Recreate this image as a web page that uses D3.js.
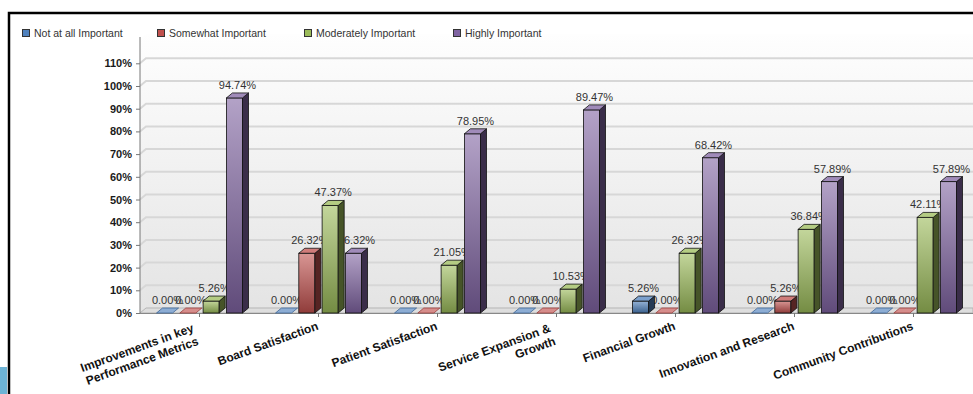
<!DOCTYPE html>
<html>
<head>
<meta charset="utf-8">
<script src="https://cdn.jsdelivr.net/npm/d3@7/dist/d3.min.js"></script>
<style>
  body { margin: 0; background: #fff; overflow: hidden; }
  text { font-family: "Liberation Sans", Arial, sans-serif; }
</style>
</head>
<body>
<div id="chart"></div>
<script>
// data
const categories = [
  "Improvements in key\nPerformance Metrics",
  "Board Satisfaction",
  "Patient Satisfaction",
  "Service Expansion &\nGrowth",
  "Financial Growth",
  "Innovation and Research",
  "Community Contributions"
];
const series = ["Not at all Important", "Somewhat Important", "Moderately Important", "Highly Important"];
const notAtAll   = [0, 0, 0, 0, 5.26, 0, 0];
const somewhat   = [0, 26.32, 0, 0, 0, 5.26, 0];
const moderately = [5.26, 47.37, 21.05, 10.53, 26.32, 36.84, 42.11];
const highly     = [94.74, 26.32, 78.95, 89.47, 68.42, 57.89, 57.89];
const yTicks = [0, 10, 20, 30, 40, 50, 60, 70, 80, 90, 100, 110];

const seriesValues = [notAtAll, somewhat, moderately, highly];
const colors = ["#4f81bd", "#c0504d", "#9bbb59", "#8064a2"];

const width = 973, height = 394;
const left = 140, right = 973, floorY = 313;
const dx = 6, dy = 5; // 3d depth
const legendX = [22, 157, 304, 453];

const svg = d3.select("#chart").append("svg")
  .attr("width", width)
  .attr("height", height);

const defs = svg.append("defs");

// wall gradient
const wallGrad = defs.append("linearGradient").attr("id", "wallGrad")
  .attr("x1", 0).attr("y1", 0).attr("x2", 0).attr("y2", 1);
wallGrad.append("stop").attr("offset", "0%").attr("stop-color", "#fefefe");
wallGrad.append("stop").attr("offset", "100%").attr("stop-color", "#e4e4e4");

// bar gradients
colors.forEach(function(c, i) {
  const g = defs.append("linearGradient").attr("id", "barGrad" + i)
    .attr("x1", 0).attr("y1", 0).attr("x2", 0).attr("y2", 1);
  g.append("stop").attr("offset", "0%").attr("stop-color", d3.interpolateRgb(c, "#fff")(0.4));
  g.append("stop").attr("offset", "100%").attr("stop-color", d3.interpolateRgb(c, "#000")(0.25));
});

// scales
const x = d3.scaleBand().domain(categories).range([left, right]);
const xs = d3.scaleBand().domain(series).range([16.5, 102.5]).paddingInner(0.31);
const y = d3.scaleLinear().domain([0, 110]).range([floorY, 63.3]);

// back wall + left wall
svg.append("rect")
  .attr("x", left + dx).attr("y", 34)
  .attr("width", right - left - dx).attr("height", floorY - dy - 34)
  .attr("fill", "url(#wallGrad)");
svg.append("polygon")
  .attr("points", [[left, 39], [left + dx, 34], [left + dx, floorY - dy], [left, floorY]].join(" "))
  .attr("fill", "url(#wallGrad)");

// gridlines
svg.append("g").selectAll("path")
  .data(yTicks.filter(function(t) { return t > 0; }))
  .enter().append("path")
  .attr("d", function(t) {
    return "M" + left + "," + y(t) + "L" + (left + dx) + "," + (y(t) - dy) + "L" + right + "," + (y(t) - dy);
  })
  .attr("fill", "none")
  .attr("stroke", "#d7d7d7")
  .attr("stroke-width", 2);

// floor
svg.append("polygon")
  .attr("points", [[left, floorY], [left + dx, floorY - dy], [right, floorY - dy], [right, floorY]].join(" "))
  .attr("fill", "#dedede")
  .attr("stroke", "#b5b5b5")
  .attr("stroke-width", 1);

// y axis
const yAxis = d3.axisLeft(y)
  .tickValues(yTicks)
  .tickSize(4)
  .tickPadding(4)
  .tickFormat(function(d) { return d + "%"; });
const yAxisGroup = svg.append("g")
  .attr("transform", "translate(" + left + ",0)")
  .call(yAxis);
yAxisGroup.select(".domain").remove();
yAxisGroup.selectAll("line").attr("stroke", "#777");
yAxisGroup.selectAll("text")
  .attr("font-family", "'Liberation Sans', Arial, sans-serif")
  .attr("font-size", 11)
  .attr("font-weight", "bold")
  .attr("fill", "#1a1a1a");
svg.append("line")
  .attr("x1", left).attr("x2", left)
  .attr("y1", 37).attr("y2", floorY)
  .attr("stroke", "#777");

// x axis
svg.append("line")
  .attr("x1", left).attr("x2", right)
  .attr("y1", floorY + 0.5).attr("y2", floorY + 0.5)
  .attr("stroke", "#888");
svg.append("g").selectAll("line")
  .data(categories).enter().append("line")
  .attr("x1", function(d) { return x(d) + x.bandwidth() / 2; })
  .attr("x2", function(d) { return x(d) + x.bandwidth() / 2; })
  .attr("y1", floorY).attr("y2", floorY + 4)
  .attr("stroke", "#777");

// x labels, rotated
const xLabel = svg.append("g").selectAll("text")
  .data(categories).enter().append("text")
  .attr("transform", function(d) {
    return "translate(" + (x(d) + x.bandwidth() / 2 - 3.8) + ",317) rotate(-20)";
  })
  .attr("text-anchor", "end")
  .attr("font-size", 12)
  .attr("font-weight", "bold")
  .attr("fill", "#111");
xLabel.each(function(d) {
  const lines = d.split("\n");
  const t = d3.select(this);
  lines.forEach(function(line, k) {
    t.append("tspan")
      .attr("x", lines.length > 1 ? -6 : 0)
      .attr("y", 13 + k * 14)
      .text(line);
  });
});

// flatten bars
const bars = [];
categories.forEach(function(c, i) {
  series.forEach(function(s, j) {
    bars.push({cat: c, series: s, j: j, value: seriesValues[j][i]});
  });
});

// value labels (drawn first, bars cover them)
svg.append("g").selectAll("text")
  .data(bars).enter().append("text")
  .attr("x", function(d) { return x(d.cat) + xs(d.series) + xs.bandwidth() / 2 + dx / 2; })
  .attr("y", function(d) { return y(d.value) - dy - 4; })
  .attr("text-anchor", "middle")
  .attr("font-size", 11)
  .attr("fill", "#333")
  .text(function(d) { return d.value.toFixed(2) + "%"; });

// bars
const barG = svg.append("g").selectAll("g")
  .data(bars).enter().append("g")
  .attr("transform", function(d) { return "translate(" + (x(d.cat) + xs(d.series)) + ",0)"; });

const w = xs.bandwidth();

barG.filter(function(d) { return d.value > 0; }).each(function(d) {
  const g = d3.select(this);
  const top = y(d.value);
  const c = colors[d.j];
  g.append("rect")
    .attr("x", 0).attr("y", top)
    .attr("width", w).attr("height", floorY - top)
    .attr("fill", "url(#barGrad" + d.j + ")")
    .attr("stroke", "#111").attr("stroke-width", 0.8);
  g.append("polygon")
    .attr("points", [[w, top], [w + dx, top - dy], [w + dx, floorY - dy], [w, floorY]].join(" "))
    .attr("fill", d3.interpolateRgb(c, "#000")(0.55))
    .attr("stroke", "#111").attr("stroke-width", 0.8);
  g.append("polygon")
    .attr("points", [[0, top], [dx, top - dy], [w + dx, top - dy], [w, top]].join(" "))
    .attr("fill", d3.interpolateRgb(c, "#fff")(0.25))
    .attr("stroke", "#111").attr("stroke-width", 0.8);
});

barG.filter(function(d) { return d.value === 0; }).append("polygon")
  .attr("points", [[0, floorY], [dx, floorY - dy], [w + dx, floorY - dy], [w, floorY]].join(" "))
  .attr("fill", function(d) { return d3.interpolateRgb(colors[d.j], "#fff")(0.35); })
  .attr("stroke", function(d) { return d3.interpolateRgb(colors[d.j], "#000")(0.2); })
  .attr("stroke-width", 0.8);

// legend
series.forEach(function(s, j) {
  svg.append("rect")
    .attr("x", legendX[j] + 0.5).attr("y", 29.5)
    .attr("width", 7).attr("height", 7)
    .attr("fill", colors[j])
    .attr("stroke", "#333");
  svg.append("text")
    .attr("x", legendX[j] + 12).attr("y", 37)
    .attr("font-size", 10.5)
    .attr("fill", "#333")
    .text(s);
});

// frame
svg.append("path")
  .attr("d", "M9," + height + "L9,13L" + width + ",13")
  .attr("fill", "none")
  .attr("stroke", "#000")
  .attr("stroke-width", 2.5);
svg.append("rect")
  .attr("x", 0).attr("y", 367)
  .attr("width", 7).attr("height", height - 367)
  .attr("fill", "#6db3d5");
</script>
</body>
</html>
